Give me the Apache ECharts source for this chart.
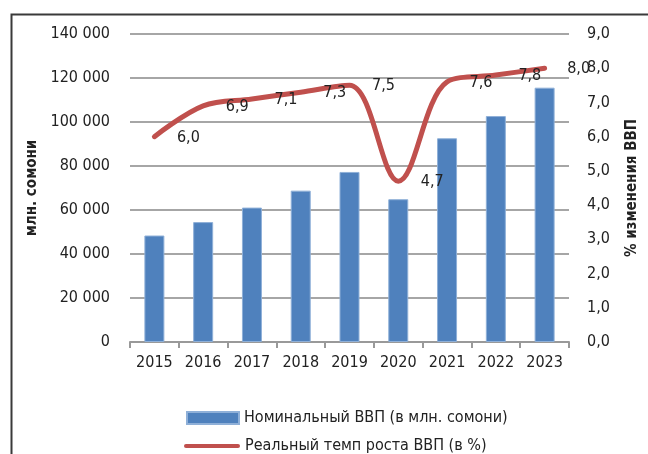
<!DOCTYPE html>
<html>
<head>
<meta charset="utf-8">
<script src="https://cdn.jsdelivr.net/npm/echarts@6/dist/echarts.min.js"></script>
<style>
  html, body { margin: 0; padding: 0; background: #fff; }
  #chart { width: 648px; height: 454px; }
</style>
</head>
<body>
<div id="chart"></div>
<script>
// годы
const years = ['2015', '2016', '2017', '2018', '2019', '2020', '2021', '2022', '2023'];
// номинальный ВВП, млн. сомони
const gdpNominal = [48400, 54500, 61100, 68800, 77300, 64900, 92600, 102700, 115600];
// реальный темп роста, %
const gdpGrowth = [6.0, 6.9, 7.1, 7.3, 7.5, 4.7, 7.6, 7.8, 8.0];

const barName = 'Номинальный ВВП (в млн. сомони)';
const lineName = 'Реальный темп роста ВВП (в %)';
const font = "'Liberation Sans Narrow', 'DejaVu Sans Condensed', 'Roboto', sans-serif";

const chart = echarts.init(document.getElementById('chart'));

const fmtThousands = v => String(v).replace(/\B(?=(\d{3})+(?!\d))/g, ' ');
const fmtComma = v => Number(v).toFixed(1).replace('.', ',');

const legendText = { fontFamily: font, fontSize: 16, color: '#222' };

const option = {
  animation: false,
  backgroundColor: '#fff',
  textStyle: { fontFamily: font },
  grid: { left: 130, right: 78, top: 34, bottom: 112 },
  // рамка вокруг рисунка
  graphic: [{
    type: 'rect',
    shape: { x: 11.5, y: 14.5, width: 700, height: 500 },
    style: { fill: 'none', stroke: '#3a3a3a', lineWidth: 2 },
    silent: true
  }],
  legend: [{
    left: 181,
    top: 405,
    itemWidth: 52,
    itemHeight: 12,
    textStyle: legendText,
    data: [{ name: barName, icon: 'rect' }]
  }, {
    left: 179,
    top: 433,
    itemWidth: 56,
    itemHeight: 12,
    textStyle: legendText,
    data: [{ name: lineName, icon: 'path://M2,0 L54,0 A2,2 0 0 1 54,4 L2,4 A2,2 0 0 1 2,0 Z' }]
  }],
  xAxis: {
    type: 'category',
    data: years,
    axisLine: { lineStyle: { color: '#999', width: 2 } },
    axisTick: { show: true, length: 6, lineStyle: { color: '#999', width: 2 } },
    axisLabel: { fontFamily: font, fontSize: 16, color: '#222', margin: 13, interval: 0 }
  },
  yAxis: [{
    type: 'value',
    min: 0,
    max: 140000,
    interval: 20000,
    name: 'млн. сомони',
    nameLocation: 'middle',
    nameGap: 82,
    nameTextStyle: { fontFamily: font, fontSize: 15, fontWeight: 'bold', color: '#222' },
    axisLine: { show: false },
    axisTick: { show: false },
    axisLabel: { fontFamily: font, fontSize: 16, color: '#222', margin: 20, formatter: fmtThousands },
    splitLine: { lineStyle: { color: '#a6a6a6', width: 2 } }
  }, {
    type: 'value',
    min: 0,
    max: 9,
    interval: 1,
    position: 'right',
    name: '% изменения ВВП',
    nameLocation: 'middle',
    nameGap: 56,
    nameTextStyle: { fontFamily: font, fontSize: 15, fontWeight: 'bold', color: '#222' },
    axisLine: { show: false },
    axisTick: { show: false },
    axisLabel: { fontFamily: font, fontSize: 16, color: '#222', margin: 18, formatter: fmtComma },
    splitLine: { show: false }
  }],
  series: [{
    name: barName,
    type: 'bar',
    data: gdpNominal,
    barWidth: 20,
    itemStyle: { color: '#4F81BD', borderColor: '#8fb0d8', borderWidth: 1 }
  }, {
    name: lineName,
    type: 'line',
    yAxisIndex: 1,
    data: gdpGrowth,
    smooth: 0.35,
    symbol: 'circle',
    symbolSize: 0.1,
    lineStyle: { color: '#C0504D', width: 5, cap: 'round' },
    itemStyle: { color: '#C0504D' },
    label: {
      show: true,
      position: 'inside',
      offset: [34, 1],
      fontFamily: font,
      fontSize: 16,
      color: '#222',
      formatter: p => fmtComma(p.value)
    },
    z: 5
  }]
};

chart.setOption(option);
</script>
</body>
</html>
